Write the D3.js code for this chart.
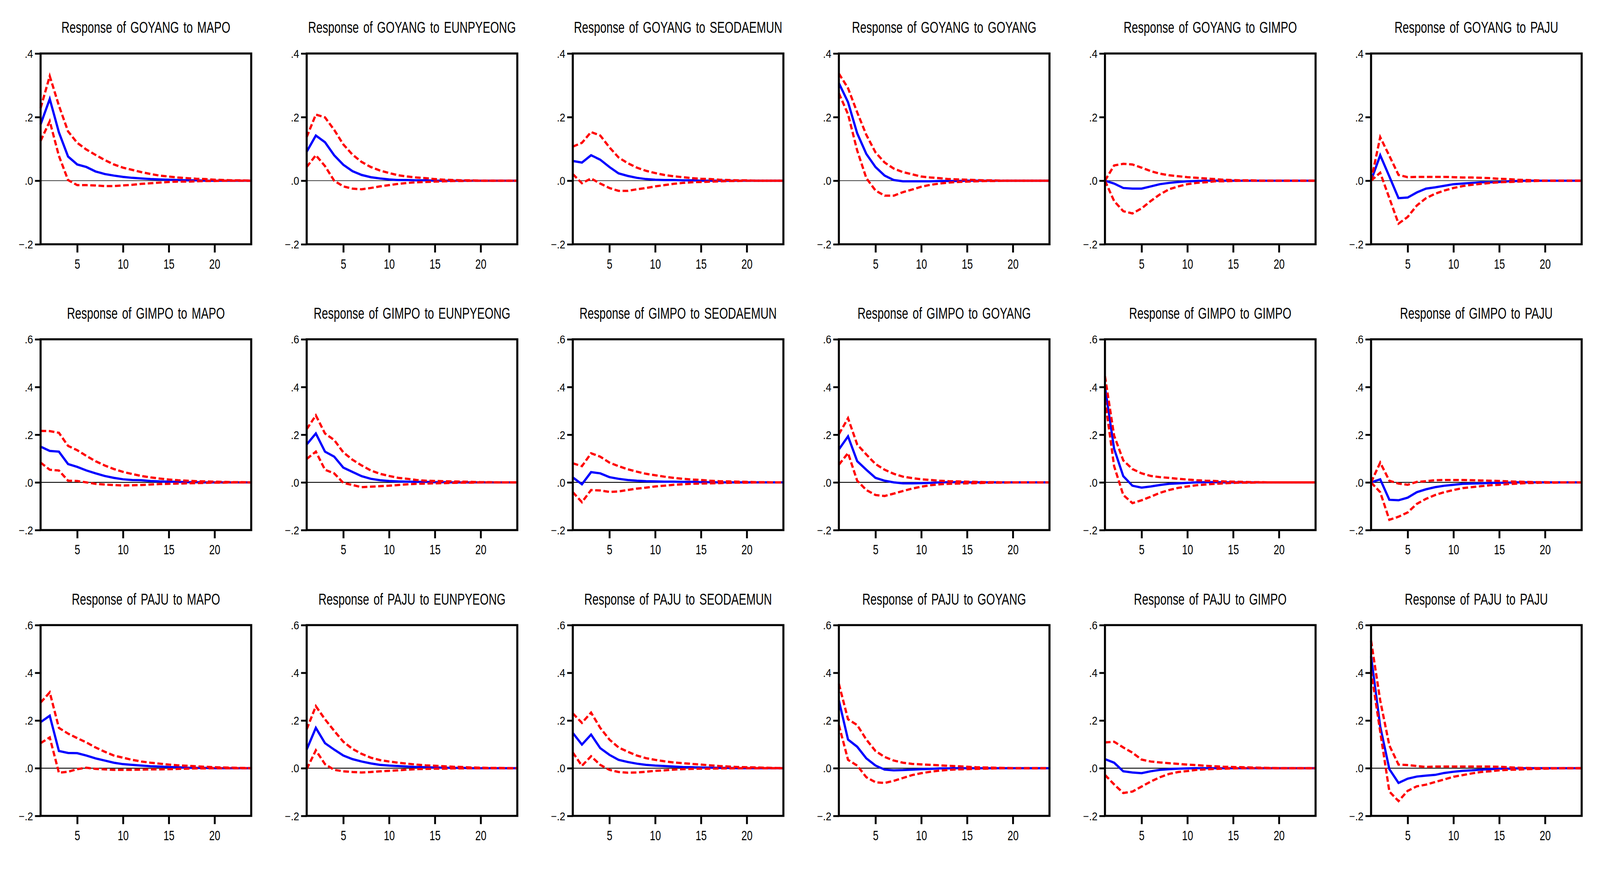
<!DOCTYPE html>
<html>
<head>
<meta charset="utf-8">
<script src="https://cdn.jsdelivr.net/npm/d3@7"></script>
<style>
  html, body { margin: 0; padding: 0; background: #fff; overflow: hidden; }
  #chart { display: block; width: 100vw; }
  text { font-family: "Liberation Sans", Arial, sans-serif; fill: #000; }
</style>
</head>
<body>
<svg id="chart"></svg>
<script>
// shocks and responding regions
const responses = ["GOYANG", "GIMPO", "PAJU"];
const impulses = ["MAPO", "EUNPYEONG", "SEODAEMUN", "GOYANG", "GIMPO", "PAJU"];
const periods = d3.range(1, 25);
const xTicks = [5, 10, 15, 20];
const yTicksFirstRow = [-0.2, 0, 0.2, 0.4];
const yTicksOtherRows = [-0.2, 0, 0.2, 0.4, 0.6];

// response of GOYANG
const GOYANG_MAPO_irf = [0.177,0.257,0.152,0.076,0.051,0.043,0.029,0.021,0.016,0.012,0.009,0.007,0.005,0.004,0.003,0.002,0.001,0.001,0,0,0,0,0,0];
const GOYANG_MAPO_hi  = [0.228,0.329,0.236,0.155,0.119,0.098,0.081,0.065,0.051,0.041,0.034,0.027,0.021,0.016,0.013,0.010,0.008,0.006,0.005,0.003,0.002,0.001,0.001,0];
const GOYANG_MAPO_lo  = [0.125,0.187,0.078,0.002,-0.014,-0.014,-0.015,-0.017,-0.017,-0.015,-0.013,-0.010,-0.008,-0.006,-0.004,-0.003,-0.003,-0.002,-0.001,-0.001,0,0,0,0];

const GOYANG_EUNPYEONG_irf = [0.091,0.142,0.121,0.080,0.050,0.030,0.018,0.011,0.007,0.004,0.002,0.002,0.001,0.001,0,0,0,0,0,0,0,0,0,0];
const GOYANG_EUNPYEONG_hi  = [0.137,0.208,0.199,0.160,0.114,0.082,0.059,0.043,0.032,0.024,0.017,0.013,0.010,0.008,0.005,0.003,0.002,0.001,0.001,0,0,0,0,0];
const GOYANG_EUNPYEONG_lo  = [0.043,0.080,0.046,0.000,-0.018,-0.025,-0.027,-0.023,-0.018,-0.014,-0.010,-0.007,-0.005,-0.004,-0.003,-0.002,-0.001,-0.001,0,0,0,0,0,0];

const GOYANG_SEODAEMUN_irf = [0.062,0.057,0.080,0.066,0.043,0.023,0.015,0.009,0.005,0.003,0.002,0.002,0.001,0.001,0,0,0,0,0,0,0,0,0,0];
const GOYANG_SEODAEMUN_hi  = [0.107,0.119,0.153,0.142,0.105,0.073,0.055,0.041,0.031,0.024,0.018,0.014,0.011,0.008,0.006,0.005,0.003,0.002,0.001,0.001,0,0,0,0];
const GOYANG_SEODAEMUN_lo  = [0.021,-0.008,0.007,-0.009,-0.023,-0.032,-0.032,-0.027,-0.023,-0.018,-0.014,-0.010,-0.007,-0.005,-0.004,-0.003,-0.002,-0.001,-0.001,0,0,0,0,0];

const GOYANG_GOYANG_irf = [0.307,0.247,0.149,0.084,0.043,0.016,0.002,-0.002,-0.002,-0.002,-0.002,-0.001,-0.001,-0.001,0,0,0,0,0,0,0,0,0,0];
const GOYANG_GOYANG_hi  = [0.337,0.291,0.215,0.144,0.089,0.057,0.038,0.027,0.020,0.013,0.010,0.008,0.005,0.004,0.003,0.002,0.001,0.001,0,0,0,0,0,0];
const GOYANG_GOYANG_lo  = [0.275,0.209,0.095,0.008,-0.031,-0.047,-0.047,-0.036,-0.028,-0.019,-0.013,-0.009,-0.006,-0.004,-0.003,-0.002,-0.001,-0.001,0,0,0,0,0,0];

const GOYANG_GIMPO_irf = [0,-0.009,-0.023,-0.025,-0.025,-0.018,-0.011,-0.007,-0.004,-0.002,-0.001,0,0,0,0,0,0,0,0,0,0,0,0,0];
const GOYANG_GIMPO_hi  = [0,0.048,0.053,0.051,0.041,0.030,0.022,0.017,0.014,0.011,0.009,0.007,0.005,0.003,0.002,0.001,0.001,0,0,0,0,0,0,0];
const GOYANG_GIMPO_lo  = [0,-0.064,-0.096,-0.103,-0.087,-0.064,-0.043,-0.027,-0.018,-0.011,-0.007,-0.005,-0.002,-0.002,-0.001,0,0,0,0,0,0,0,0,0];

const GOYANG_PAJU_irf = [0,0.080,0.013,-0.055,-0.053,-0.037,-0.025,-0.021,-0.016,-0.011,-0.009,-0.007,-0.005,-0.005,-0.004,-0.002,-0.001,0,0,0,0,0,0,0];
const GOYANG_PAJU_hi  = [0,0.137,0.078,0.018,0.011,0.012,0.012,0.012,0.012,0.011,0.010,0.010,0.009,0.008,0.006,0.005,0.003,0.002,0.001,0,0,0,0,0];
const GOYANG_PAJU_lo  = [0,0.025,-0.055,-0.135,-0.114,-0.078,-0.055,-0.041,-0.031,-0.023,-0.017,-0.013,-0.010,-0.007,-0.005,-0.004,-0.003,-0.002,-0.001,0,0,0,0,0];

// response of GIMPO
const GIMPO_MAPO_irf = [0.150,0.132,0.129,0.077,0.065,0.050,0.038,0.027,0.019,0.013,0.010,0.009,0.006,0.004,0.003,0.002,0.001,0.001,0,0,0,0,0,0];
const GIMPO_MAPO_hi  = [0.216,0.215,0.208,0.153,0.135,0.111,0.089,0.071,0.056,0.044,0.035,0.027,0.021,0.016,0.012,0.009,0.007,0.005,0.004,0.003,0.002,0.001,0.001,0];
const GIMPO_MAPO_lo  = [0.083,0.053,0.050,0.007,0.006,0.000,-0.006,-0.009,-0.011,-0.013,-0.012,-0.011,-0.009,-0.007,-0.006,-0.005,-0.004,-0.003,-0.002,-0.001,-0.001,0,0,0];

const GIMPO_EUNPYEONG_irf = [0.159,0.205,0.129,0.108,0.062,0.044,0.026,0.015,0.009,0.006,0.004,0.003,0.002,0.002,0.001,0.001,0,0,0,0,0,0,0,0];
const GIMPO_EUNPYEONG_hi  = [0.223,0.281,0.205,0.178,0.126,0.095,0.071,0.050,0.036,0.027,0.019,0.015,0.010,0.007,0.006,0.005,0.004,0.003,0.002,0.001,0.001,0,0,0];
const GIMPO_EUNPYEONG_lo  = [0.098,0.129,0.053,0.038,-0.002,-0.011,-0.020,-0.018,-0.016,-0.014,-0.011,-0.008,-0.006,-0.005,-0.004,-0.003,-0.002,-0.001,-0.001,0,0,0,0,0];

const GIMPO_SEODAEMUN_irf = [0.021,-0.008,0.043,0.038,0.022,0.015,0.010,0.007,0.005,0.004,0.003,0.003,0.002,0.002,0.001,0.001,0,0,0,0,0,0,0,0];
const GIMPO_SEODAEMUN_hi  = [0.080,0.068,0.122,0.108,0.083,0.068,0.055,0.045,0.036,0.030,0.024,0.019,0.015,0.012,0.010,0.007,0.005,0.004,0.003,0.002,0.001,0.001,0,0];
const GIMPO_SEODAEMUN_lo  = [-0.041,-0.083,-0.032,-0.034,-0.040,-0.038,-0.032,-0.026,-0.022,-0.017,-0.014,-0.010,-0.008,-0.006,-0.005,-0.004,-0.003,-0.002,-0.001,-0.001,0,0,0,0];

const GIMPO_GOYANG_irf = [0.138,0.193,0.089,0.053,0.019,0.007,0.000,-0.004,-0.004,-0.003,-0.002,0,0.001,0.001,0,0,0,0,0,0,0,0,0,0];
const GIMPO_GOYANG_hi  = [0.202,0.269,0.159,0.117,0.077,0.053,0.036,0.024,0.018,0.013,0.010,0.007,0.005,0.004,0.003,0.002,0.001,0.001,0,0,0,0,0,0];
const GIMPO_GOYANG_lo  = [0.074,0.123,0.007,-0.032,-0.053,-0.057,-0.047,-0.036,-0.026,-0.018,-0.012,-0.008,-0.006,-0.005,-0.004,-0.003,-0.002,-0.001,-0.001,0,0,0,0,0];

const GIMPO_GIMPO_irf = [0.402,0.141,0.026,-0.014,-0.022,-0.017,-0.011,-0.006,-0.004,-0.002,0,0.001,0.001,0,0,0,0,0,0,0,0,0,0,0];
const GIMPO_GIMPO_hi  = [0.445,0.196,0.092,0.056,0.038,0.027,0.022,0.019,0.015,0.012,0.009,0.007,0.006,0.004,0.003,0.002,0.001,0.001,0,0,0,0,0,0];
const GIMPO_GIMPO_lo  = [0.348,0.068,-0.053,-0.087,-0.075,-0.060,-0.044,-0.032,-0.023,-0.017,-0.012,-0.009,-0.006,-0.004,-0.002,-0.001,-0.001,0,0,0,0,0,0,0];

const GIMPO_PAJU_irf = [0,0.013,-0.073,-0.075,-0.064,-0.041,-0.029,-0.020,-0.014,-0.010,-0.006,-0.005,-0.004,-0.002,-0.002,-0.001,0,0,0,0,0,0,0,0];
const GIMPO_PAJU_hi  = [0,0.083,0.007,-0.005,-0.010,0.002,0.005,0.009,0.010,0.010,0.010,0.009,0.008,0.007,0.006,0.004,0.003,0.002,0.001,0.001,0,0,0,0];
const GIMPO_PAJU_lo  = [0,-0.041,-0.157,-0.144,-0.126,-0.090,-0.069,-0.053,-0.041,-0.032,-0.024,-0.020,-0.016,-0.012,-0.010,-0.007,-0.005,-0.003,-0.002,-0.001,-0.001,0,0,0];

// response of PAJU
const PAJU_MAPO_irf = [0.193,0.220,0.072,0.064,0.063,0.053,0.041,0.032,0.023,0.017,0.014,0.011,0.008,0.007,0.005,0.004,0.002,0.001,0.001,0,0,0,0,0];
const PAJU_MAPO_hi  = [0.275,0.318,0.169,0.145,0.126,0.108,0.087,0.069,0.053,0.044,0.035,0.028,0.023,0.019,0.015,0.012,0.010,0.008,0.006,0.004,0.003,0.002,0.001,0];
const PAJU_MAPO_lo  = [0.105,0.129,-0.019,-0.015,-0.004,0.002,-0.003,-0.005,-0.007,-0.007,-0.007,-0.006,-0.005,-0.005,-0.004,-0.003,-0.002,-0.001,-0.001,0,0,0,0,0];

const PAJU_EUNPYEONG_irf = [0.078,0.169,0.105,0.078,0.053,0.038,0.028,0.020,0.014,0.011,0.009,0.007,0.005,0.004,0.003,0.002,0.001,0.001,0,0,0,0,0,0];
const PAJU_EUNPYEONG_hi  = [0.163,0.260,0.205,0.157,0.111,0.081,0.060,0.044,0.034,0.028,0.023,0.019,0.015,0.012,0.010,0.008,0.006,0.005,0.003,0.002,0.001,0.001,0,0];
const PAJU_EUNPYEONG_lo  = [-0.004,0.075,0.017,-0.007,-0.013,-0.016,-0.018,-0.016,-0.013,-0.011,-0.009,-0.006,-0.004,-0.003,-0.002,-0.002,-0.001,-0.001,0,0,0,0,0,0];

const PAJU_SEODAEMUN_irf = [0.148,0.099,0.141,0.084,0.056,0.035,0.026,0.019,0.014,0.011,0.009,0.007,0.005,0.004,0.003,0.002,0.001,0.001,0,0,0,0,0,0];
const PAJU_SEODAEMUN_hi  = [0.230,0.190,0.233,0.169,0.120,0.087,0.069,0.053,0.042,0.035,0.029,0.024,0.021,0.018,0.015,0.012,0.009,0.007,0.005,0.004,0.003,0.002,0.001,0];
const PAJU_SEODAEMUN_lo  = [0.066,0.010,0.050,0.014,-0.007,-0.016,-0.019,-0.018,-0.015,-0.011,-0.009,-0.006,-0.004,-0.003,-0.002,-0.002,-0.001,-0.001,0,0,0,0,0,0];

const PAJU_GOYANG_irf = [0.284,0.120,0.090,0.041,0.011,-0.006,-0.009,-0.008,-0.006,-0.004,-0.003,-0.001,-0.001,0,0,0,0,0,0,0,0,0,0,0];
const PAJU_GOYANG_hi  = [0.354,0.205,0.181,0.120,0.072,0.047,0.032,0.023,0.018,0.016,0.014,0.012,0.010,0.008,0.006,0.004,0.003,0.002,0.001,0,0,0,0,0];
const PAJU_GOYANG_lo  = [0.181,0.035,0.011,-0.038,-0.059,-0.062,-0.053,-0.041,-0.029,-0.021,-0.015,-0.010,-0.007,-0.005,-0.004,-0.003,-0.002,-0.001,0,0,0,0,0,0];

const PAJU_GIMPO_irf = [0.038,0.023,-0.013,-0.018,-0.021,-0.013,-0.007,-0.004,-0.002,-0.001,0,0,0,0,0,0,0,0,0,0,0,0,0,0];
const PAJU_GIMPO_hi  = [0.108,0.111,0.087,0.065,0.036,0.028,0.024,0.021,0.018,0.015,0.013,0.010,0.008,0.006,0.005,0.004,0.003,0.002,0.001,0,0,0,0,0];
const PAJU_GIMPO_lo  = [-0.028,-0.068,-0.104,-0.098,-0.077,-0.056,-0.038,-0.024,-0.016,-0.012,-0.007,-0.005,-0.003,-0.002,-0.001,0,0,0,0,0,0,0,0,0];

const PAJU_PAJU_irf = [0.470,0.175,-0.004,-0.062,-0.044,-0.035,-0.031,-0.028,-0.020,-0.015,-0.011,-0.009,-0.006,-0.004,-0.002,-0.002,-0.001,0,0,0,0,0,0,0];
const PAJU_PAJU_hi  = [0.535,0.284,0.095,0.015,0.013,0.009,0.005,0.007,0.007,0.007,0.007,0.007,0.007,0.007,0.006,0.004,0.002,0.001,0,0,0,0,0,0];
const PAJU_PAJU_lo  = [0.410,0.153,-0.098,-0.138,-0.095,-0.076,-0.069,-0.058,-0.047,-0.036,-0.029,-0.022,-0.016,-0.013,-0.009,-0.007,-0.006,-0.004,-0.003,-0.002,-0.001,0,0,0];

// lookup: [irf, lower band, upper band]
const panels = {
  GOYANG_MAPO: [GOYANG_MAPO_irf, GOYANG_MAPO_lo, GOYANG_MAPO_hi],
  GOYANG_EUNPYEONG: [GOYANG_EUNPYEONG_irf, GOYANG_EUNPYEONG_lo, GOYANG_EUNPYEONG_hi],
  GOYANG_SEODAEMUN: [GOYANG_SEODAEMUN_irf, GOYANG_SEODAEMUN_lo, GOYANG_SEODAEMUN_hi],
  GOYANG_GOYANG: [GOYANG_GOYANG_irf, GOYANG_GOYANG_lo, GOYANG_GOYANG_hi],
  GOYANG_GIMPO: [GOYANG_GIMPO_irf, GOYANG_GIMPO_lo, GOYANG_GIMPO_hi],
  GOYANG_PAJU: [GOYANG_PAJU_irf, GOYANG_PAJU_lo, GOYANG_PAJU_hi],
  GIMPO_MAPO: [GIMPO_MAPO_irf, GIMPO_MAPO_lo, GIMPO_MAPO_hi],
  GIMPO_EUNPYEONG: [GIMPO_EUNPYEONG_irf, GIMPO_EUNPYEONG_lo, GIMPO_EUNPYEONG_hi],
  GIMPO_SEODAEMUN: [GIMPO_SEODAEMUN_irf, GIMPO_SEODAEMUN_lo, GIMPO_SEODAEMUN_hi],
  GIMPO_GOYANG: [GIMPO_GOYANG_irf, GIMPO_GOYANG_lo, GIMPO_GOYANG_hi],
  GIMPO_GIMPO: [GIMPO_GIMPO_irf, GIMPO_GIMPO_lo, GIMPO_GIMPO_hi],
  GIMPO_PAJU: [GIMPO_PAJU_irf, GIMPO_PAJU_lo, GIMPO_PAJU_hi],
  PAJU_MAPO: [PAJU_MAPO_irf, PAJU_MAPO_lo, PAJU_MAPO_hi],
  PAJU_EUNPYEONG: [PAJU_EUNPYEONG_irf, PAJU_EUNPYEONG_lo, PAJU_EUNPYEONG_hi],
  PAJU_SEODAEMUN: [PAJU_SEODAEMUN_irf, PAJU_SEODAEMUN_lo, PAJU_SEODAEMUN_hi],
  PAJU_GOYANG: [PAJU_GOYANG_irf, PAJU_GOYANG_lo, PAJU_GOYANG_hi],
  PAJU_GIMPO: [PAJU_GIMPO_irf, PAJU_GIMPO_lo, PAJU_GIMPO_hi],
  PAJU_PAJU: [PAJU_PAJU_irf, PAJU_PAJU_lo, PAJU_PAJU_hi]
};

const width = 4277, height = 2281;
const boxW = 563, boxH = 510;
const colLeft = 108.5, colStep = 711.3;
const rowTops = [143, 907, 1671];

// fixed drawing space, stretched to the window width and anchored at the top
const svg = d3.select("#chart")
  .attr("viewBox", "0 0 " + width + " " + height)
  .attr("preserveAspectRatio", "xMinYMin meet")
  .style("height", (window.innerWidth * height / width) + "px");

svg.append("rect")
  .attr("width", width)
  .attr("height", height)
  .attr("fill", "#fff");

const x = d3.scaleLinear().domain([1, 24]).range([0, boxW]);

function tickFmt(d) {
  if (d === 0) return ".0";
  return d3.format(".1f")(d).replace("0.", ".");
}

responses.forEach(function(resp, r) {
  const yTicks = r === 0 ? yTicksFirstRow : yTicksOtherRows;
  const y = d3.scaleLinear()
    .domain([-0.2, r === 0 ? 0.4 : 0.6])
    .range([boxH, 0]);

  impulses.forEach(function(imp, c) {
    const series = panels[resp + "_" + imp];
    const g = svg.append("g")
      .attr("transform", "translate(" + (colLeft + colStep * c) + "," + rowTops[r] + ")");

    // title
    g.append("text")
      .attr("transform", "translate(" + (boxW / 2) + ",-55) scale(0.7,1)")
      .attr("text-anchor", "middle")
      .style("font-size", "43px")
      .style("word-spacing", "5px")
      .text("Response of " + resp + " to " + imp);

    // left axis
    const yAxis = g.append("g")
      .call(d3.axisLeft(y).tickValues(yTicks).tickSize(15).tickFormat(tickFmt));
    yAxis.select(".domain").remove();
    yAxis.selectAll("line").attr("stroke", "#000").attr("stroke-width", 5);
    yAxis.selectAll("text")
      .attr("x", 0)
      .attr("dy", "0.36em")
      .attr("transform", "translate(-20,0) scale(0.9,1)")
      .style("font-size", "30px");

    // bottom axis
    const xAxis = g.append("g")
      .attr("transform", "translate(0," + boxH + ")")
      .call(d3.axisBottom(x).tickValues(xTicks).tickSize(22).tickFormat(d3.format("d")));
    xAxis.select(".domain").remove();
    xAxis.selectAll("line").attr("stroke", "#000").attr("stroke-width", 5);
    xAxis.selectAll("text")
      .attr("y", 0)
      .attr("dy", null)
      .attr("transform", "translate(0,65) scale(0.72,1)")
      .style("font-size", "37px");

    // zero line
    g.append("line")
      .attr("x1", 0).attr("x2", boxW)
      .attr("y1", y(0)).attr("y2", y(0))
      .attr("stroke", "#000")
      .attr("stroke-width", r === 0 ? 1.5 : 2.4);

    const line = d3.line()
      .x(function(d, i) { return x(periods[i]); })
      .y(function(d) { return y(d); });

    const plot = g.append("g");

    plot.append("path")
      .datum(series[0])
      .attr("d", line)
      .attr("fill", "none")
      .attr("stroke", "#0000ff")
      .attr("stroke-width", 6);

    plot.selectAll(".band")
      .data([series[1], series[2]])
      .enter()
      .append("path")
      .attr("class", "band")
      .attr("d", line)
      .attr("fill", "none")
      .attr("stroke", "#ff0000")
      .attr("stroke-width", 6)
      .attr("stroke-dasharray", "15,7");

    // frame
    g.append("rect")
      .attr("width", boxW)
      .attr("height", boxH)
      .attr("fill", "none")
      .attr("stroke", "#000")
      .attr("stroke-width", 5.5);
  });
});
</script>
</body>
</html>
